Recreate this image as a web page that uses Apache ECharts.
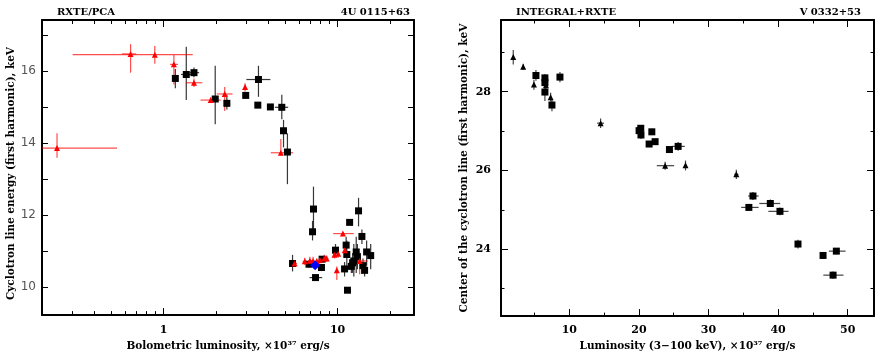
<!DOCTYPE html>
<html><head><meta charset="utf-8">
<script src="https://cdn.jsdelivr.net/npm/echarts@6/dist/echarts.min.js"></script>
<style>html,body{margin:0;padding:0;background:#fff}#c{width:879px;height:357px}</style>
</head><body><div id="c"></div>
<script>
// ---------- data: [x, y, xLow, xHigh, yLow, yHigh] ----------
// Left panel (4U 0115+63, RXTE/PCA) - red triangles
const pcaRed = [
  [0.244, 13.86, 0.2, 0.54, 13.59, 14.27],
  [0.646, 16.47, 0.576, 0.696, 15.95, 16.74],
  [0.89, 16.45, 0.30, 1.47, 16.2, 16.69],
  [1.146, 16.18, 1.09, 1.21, 15.62, 16.44],
  [1.495, 15.67, 1.34, 1.67, 15.55, 15.79],
  [1.865, 15.19, 1.63, 2.13, 15.12, 15.26],
  [2.245, 15.36, 2.02, 2.49, 14.89, 15.55],
  [2.94, 15.55, 2.94, 2.94, 15.43, 15.66],
  [4.72, 13.73, 4.13, 5.55, 13.65, 14.11],
  [5.66, 10.66, 5.5, 5.85, 10.6, 10.72],
  [6.48, 10.72, 6.3, 6.7, 10.62, 10.82],
  [6.93, 10.74, 6.8, 7.1, 10.62, 10.85],
  [7.23, 10.73, 7.1, 7.4, 10.6, 10.85],
  [7.6, 10.72, 7.45, 7.75, 10.6, 10.8],
  [7.92, 10.76, 7.8, 8.1, 10.66, 10.86],
  [8.38, 10.8, 8.2, 8.55, 10.7, 10.9],
  [8.66, 10.8, 8.5, 8.85, 10.72, 10.88],
  [9.6, 10.9, 9.4, 9.8, 10.8, 11.0],
  [10.08, 10.93, 9.9, 10.25, 10.82, 11.05],
  [9.9, 10.47, 9.8, 10.0, 10.2, 10.58],
  [10.73, 11.49, 9.43, 12.4, 11.45, 11.53],
  [11.0, 11.03, 10.85, 11.15, 10.95, 11.12],
  [13.4, 10.73, 12.4, 14.9, 10.36, 10.96]
];
// Left panel - black squares
const pcaBlack = [
  [1.168, 15.79, 1.14, 1.2, 15.52, 16.05],
  [1.35, 15.90, 1.26, 1.456, 15.19, 16.67],
  [1.495, 15.95, 1.41, 1.6, 15.82, 16.09],
  [1.98, 15.22, 1.9, 2.06, 14.52, 16.14],
  [2.31, 15.10, 2.25, 2.37, 14.93, 15.34],
  [2.965, 15.32, 2.85, 3.08, 15.25, 15.4],
  [3.51, 15.76, 2.99, 4.11, 15.28, 16.14],
  [3.48, 15.05, 3.42, 3.54, 14.98, 15.12],
  [4.11, 15.0, 4.0, 4.22, 14.94, 15.06],
  [4.78, 14.99, 4.36, 5.2, 14.66, 15.34],
  [4.89, 14.34, 4.8, 4.98, 13.88, 14.64],
  [5.15, 13.75, 5.1, 5.2, 12.86, 14.27],
  [5.51, 10.66, 5.4, 5.62, 10.44, 10.9],
  [7.27, 12.17, 7.1, 7.45, 11.6, 12.79],
  [7.18, 11.54, 7.0, 7.35, 11.3, 11.84],
  [7.47, 10.27, 6.9, 8.16, 10.2, 10.35],
  [6.85, 10.64, 6.6, 7.1, 10.55, 10.73],
  [8.08, 10.55, 7.9, 8.3, 10.45, 10.65],
  [8.15, 10.78, 7.95, 8.35, 10.7, 10.86],
  [9.73, 11.03, 9.5, 9.95, 10.85, 11.2],
  [11.73, 11.80, 11.73, 11.73, 11.75, 11.85],
  [13.2, 12.12, 12.6, 13.8, 11.69, 12.48],
  [13.8, 11.41, 13.4, 14.2, 11.2, 11.6],
  [11.2, 11.17, 11.0, 11.4, 10.95, 11.4],
  [11.3, 10.91, 11.1, 11.5, 10.5, 11.3],
  [12.8, 10.98, 12.5, 13.1, 10.4, 11.4],
  [12.4, 10.73, 12.1, 12.7, 10.3, 11.2],
  [12.2, 10.68, 11.9, 12.5, 10.4, 10.95],
  [14.69, 10.98, 14.3, 15.1, 10.6, 11.3],
  [15.5, 10.88, 15.0, 16.0, 10.5, 11.2],
  [10.97, 10.51, 10.7, 11.2, 10.3, 10.7],
  [12.0, 10.58, 11.7, 12.3, 10.4, 10.75],
  [14.3, 10.47, 13.9, 14.7, 10.3, 10.65],
  [11.4, 9.92, 11.2, 11.6, 9.85, 10.0],
  [13.0, 10.85, 12.7, 13.3, 10.5, 11.2],
  [14.0, 10.6, 13.7, 14.3, 10.4, 10.8]
];
// Left panel - blue point
const pcaBlue = [[7.43, 10.61, 7.0, 7.9, 10.55, 10.67]];

// Right panel (V 0332+53, INTEGRAL+RXTE) - triangles
const intTri = [
  [1.95, 28.88, 1.95, 1.95, 28.69, 29.06],
  [3.38, 28.63, 3.38, 3.38, 28.55, 28.71],
  [4.92, 28.18, 4.92, 4.92, 28.05, 28.3],
  [6.65, 28.16, 6.65, 6.65, 28.05, 28.27],
  [7.32, 27.86, 7.32, 7.32, 27.75, 27.97],
  [14.5, 27.2, 14.0, 15.0, 27.08, 27.32],
  [23.77, 26.12, 22.57, 25.06, 26.02, 26.22],
  [26.7, 26.13, 26.7, 26.7, 26.0, 26.25],
  [34.0, 25.9, 33.7, 34.3, 25.78, 26.02]
];
// Right panel - squares
const intSq = [
  [5.21, 28.41, 5.21, 5.21, 28.28, 28.55],
  [6.5, 28.35, 6.5, 6.5, 28.2, 28.45],
  [6.5, 28.23, 6.5, 6.5, 28.12, 28.33],
  [6.5, 27.99, 6.5, 6.5, 27.76, 28.1],
  [7.51, 27.66, 7.51, 7.51, 27.5, 27.8],
  [8.66, 28.37, 8.66, 8.66, 28.24, 28.5],
  [20.03, 27.01, 19.8, 20.3, 26.9, 27.1],
  [20.27, 27.07, 20.1, 20.45, 26.98, 27.15],
  [20.3, 26.9, 20.1, 20.5, 26.8, 27.0],
  [21.86, 26.98, 21.7, 22.0, 26.9, 27.06],
  [21.47, 26.67, 21.3, 21.65, 26.6, 26.75],
  [22.33, 26.73, 22.2, 22.5, 26.65, 26.8],
  [24.39, 26.53, 24.1, 24.7, 26.45, 26.6],
  [25.64, 26.61, 24.7, 26.6, 26.5, 26.72],
  [36.39, 25.35, 35.7, 37.2, 25.25, 25.45],
  [35.8, 25.06, 34.7, 37.2, 24.98, 25.15],
  [38.88, 25.16, 37.3, 40.3, 25.07, 25.26],
  [40.27, 24.96, 38.6, 41.5, 24.86, 25.06],
  [42.86, 24.13, 42.86, 42.86, 24.02, 24.24],
  [46.46, 23.84, 46.46, 46.46, 23.75, 23.93],
  [48.37, 23.95, 47.3, 49.7, 23.87, 24.03],
  [47.9, 23.34, 46.5, 49.4, 23.25, 23.43]
];

// tick values / labels
const leftXMajor = [1, 10];
const leftXMinor = [0.3, 0.4, 0.5, 0.6, 0.7, 0.8, 0.9, 2, 3, 4, 5, 6, 7, 8, 9, 20];
const leftYTicks = [10, 11, 12, 13, 14, 15, 16, 17];
const leftYLabels = [10, 12, 14, 16];
const rightXMajor = [10, 20, 30, 40, 50];
const rightXMinor = [5, 15, 25, 35, 45];
const rightYMajor = [24, 26, 28];
const rightYMinor = [23, 25, 27, 29];

// ---------- chart ----------
const SERIF = '"DejaVu Serif","Liberation Serif",serif';
const chart = echarts.init(document.getElementById('c'), null, {renderer: 'canvas'});

function axis(base, ticks, len, lineShow, label) {
  return Object.assign({
    splitLine: {show: false},
    axisLine: {show: lineShow, onZero: false, lineStyle: {color: '#000', width: 2}},
    axisTick: {show: true, inside: true, length: len, customValues: ticks, lineStyle: {color: '#000', width: 1}},
    axisLabel: label || {show: false}
  }, base);
}
function lbl(values, color, margin, bold, size, family) {
  return {show: true, customValues: values, color: color, margin: margin,
          fontFamily: family || SERIF, fontWeight: bold ? 'bold' : 'normal', fontSize: size || 11,
          formatter: v => String(v)};
}
const NAME = {fontFamily: SERIF, fontWeight: 'bold', fontSize: 10.5, color: '#000'};
const LX = {gridIndex: 0, type: 'log', logBase: 10, min: 0.2, max: 27.5};
const RX = {gridIndex: 1, type: 'value', min: 0.19, max: 53.78};
const LY = {gridIndex: 0, type: 'value', min: 9.23, max: 17.41};
const RY = {gridIndex: 1, type: 'value', min: 22.30, max: 29.82};

const xAxes = [
  axis(Object.assign({}, LX, {position: 'bottom', name: 'Bolometric luminosity, ×10³⁷ erg/s',
    nameLocation: 'middle', nameGap: 24, nameTextStyle: NAME}),
    leftXMajor, 7, true, lbl(leftXMajor, '#000', 10, true, 11)),
  axis(Object.assign({}, LX, {position: 'bottom'}), leftXMinor, 4, false),
  axis(Object.assign({}, LX, {position: 'top'}), leftXMajor, 7, true),
  axis(Object.assign({}, LX, {position: 'top'}), leftXMinor, 4, false),
  axis(Object.assign({}, RX, {position: 'bottom', name: 'Luminosity (3−100 keV), ×10³⁷ erg/s',
    nameLocation: 'middle', nameGap: 23, nameTextStyle: NAME}),
    rightXMajor, 7, true, lbl(rightXMajor, '#000', 9, true, 11)),
  axis(Object.assign({}, RX, {position: 'bottom'}), rightXMinor, 3.5, false),
  axis(Object.assign({}, RX, {position: 'top'}), rightXMajor, 7, true),
  axis(Object.assign({}, RX, {position: 'top'}), rightXMinor, 3.5, false)
];
const yAxes = [
  axis(Object.assign({}, LY, {position: 'left', name: 'Cyclotron line energy (first harmonic), keV',
    nameLocation: 'middle', nameGap: 25, nameTextStyle: Object.assign({}, NAME, {padding: [0, 12, 0, 0]})}),
    leftYTicks, 6, true, lbl(leftYLabels, '#555', 6, false, 12, '"DejaVu Sans",sans-serif')),
  axis(Object.assign({}, LY, {position: 'right'}), leftYTicks, 6, true),
  axis(Object.assign({}, RY, {position: 'left', name: 'Center of the cyclotron line (first harmonic), keV',
    nameLocation: 'middle', nameGap: 31, nameTextStyle: NAME}),
    rightYMajor, 7, true, lbl(rightYMajor, '#000', 10, true, 11)),
  axis(Object.assign({}, RY, {position: 'left'}), rightYMinor, 3.5, false),
  axis(Object.assign({}, RY, {position: 'right'}), rightYMajor, 7, true),
  axis(Object.assign({}, RY, {position: 'right'}), rightYMinor, 3.5, false)
];

function errSeries(data, xi, yi, color, width) {
  return {
    type: 'custom', xAxisIndex: xi, yAxisIndex: yi, data: data, clip: true,
    encode: {x: 0, y: 1}, silent: true,
    renderItem: function (params, api) {
      const x = api.value(0), y = api.value(1);
      const p = api.coord([x, y]);
      const l = api.coord([api.value(2), y]);
      const r = api.coord([api.value(3), y]);
      const b = api.coord([x, api.value(4)]);
      const t = api.coord([x, api.value(5)]);
      const st = {stroke: color, lineWidth: width};
      return {type: 'group', children: [
        {type: 'line', shape: {x1: l[0], y1: p[1], x2: r[0], y2: p[1]}, style: st},
        {type: 'line', shape: {x1: p[0], y1: b[1], x2: p[0], y2: t[1]}, style: st}
      ]};
    }
  };
}
function markSeries(data, xi, yi, symbol, size, color) {
  return {
    type: 'scatter', xAxisIndex: xi, yAxisIndex: yi, symbol: symbol, symbolSize: size,
    data: data.map(d => [d[0], d[1]]), itemStyle: {color: color, opacity: 1}, silent: true
  };
}

const TITLE_FONT = 'bold 10px ' + SERIF;
chart.setOption({
  animation: false,
  backgroundColor: '#fff',
  grid: [
    {left: 42, top: 20, width: 372, height: 298},
    {left: 501, top: 20, width: 373, height: 299}
  ],
  xAxis: xAxes,
  yAxis: yAxes,
  graphic: [
    {type: 'text', x: 57, y: 12, style: {text: 'RXTE/PCA', font: TITLE_FONT, fill: '#000', verticalAlign: 'middle'}},
    {type: 'text', x: 410, y: 12, style: {text: '4U 0115+63', font: TITLE_FONT, fill: '#000', align: 'right', verticalAlign: 'middle'}},
    {type: 'text', x: 516, y: 12, style: {text: 'INTEGRAL+RXTE', font: TITLE_FONT, fill: '#000', verticalAlign: 'middle'}},
    {type: 'text', x: 861, y: 12, style: {text: 'V 0332+53', font: TITLE_FONT, fill: '#000', align: 'right', verticalAlign: 'middle'}}
  ],
  series: [
    errSeries(pcaBlack, 0, 0, 'rgba(20,20,20,0.85)', 1.2),
    markSeries(pcaBlack, 0, 0, 'rect', 7, '#000'),
    errSeries(pcaRed, 0, 0, 'rgba(255,0,0,0.7)', 1.2),
    markSeries(pcaRed, 0, 0, 'triangle', 6, '#ff0000'),
    errSeries(pcaBlue, 0, 0, 'rgba(0,0,255,0.8)', 1.2),
    markSeries(pcaBlue, 0, 0, 'diamond', 10, '#0000ff'),
    errSeries(intTri, 4, 2, 'rgba(20,20,20,0.8)', 1.2),
    markSeries(intTri, 4, 2, 'triangle', 6, '#000'),
    errSeries(intSq, 4, 2, 'rgba(20,20,20,0.8)', 1.2),
    markSeries(intSq, 4, 2, 'rect', 7, '#000')
  ]
});
</script></body></html>
